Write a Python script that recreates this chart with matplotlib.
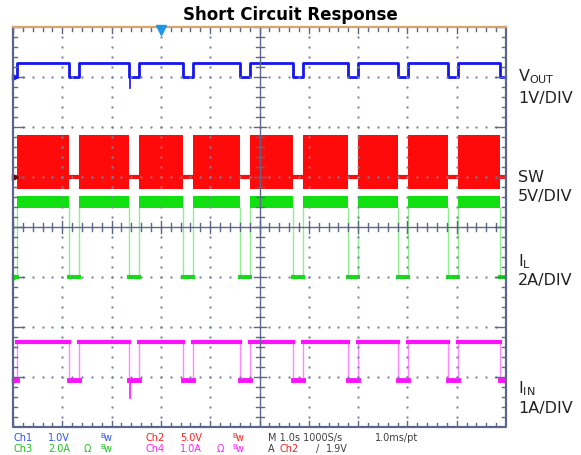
import matplotlib.pyplot as plt

# burst on/off times in divisions (1 s/div)
on_start = [0.08, 1.34, 2.56, 3.65, 4.81, 5.88, 7.00, 8.01, 9.03]
on_end = [1.14, 2.35, 3.45, 4.60, 5.68, 6.80, 7.81, 8.82, 9.88]

# channel levels in divisions from the centre line
vout_lo, vout_hi, vout_spike = 3.0, 3.28, 2.78
sw_lo, sw_top, sw_bot = 1.0, 1.84, 0.76
il_lo, il_top, il_bot = -1.0, 0.63, 0.38
iin_lo, iin_hi, iin_spike = -3.05, -2.30, -3.42
spike_t = 2.37

right_labels = [(r'V$_{\mathregular{OUT}}$', 77), ('1V/DIV', 98),
                ('SW', 177), ('5V/DIV', 197),
                (r'I$_{\mathregular{L}}$', 262), ('2A/DIV', 281),
                (r'I$_{\mathregular{IN}}$', 389), ('1A/DIV', 408)]

BLUE, RED, GREEN, MAG = '#1515f0', '#ff0a0a', '#10e010', '#ff10ff'
GRID = '#5c6688'

W, H = 581, 455
fig = plt.figure(figsize=(W / 100, H / 100), dpi=100)
ax = fig.add_axes([13 / W, 28 / H, 493 / W, 400 / H])
ax.set_xlim(0, 10)
ax.set_ylim(-4, 4)
ax.axis('off')
PX, PY = 10 / 493, 8 / 400   # data units per pixel


def step_trace(lo, hi):
    xs, ys = [0], [lo]
    for s, e in zip(on_start, on_end):
        xs += [s, s, e, e]
        ys += [lo, hi, hi, lo]
    xs.append(10)
    ys.append(lo)
    return xs, ys


# Ch1 Vout
xs, ys = step_trace(vout_lo, vout_hi)
ax.plot(xs, ys, color=BLUE, lw=2.0, zorder=3)
ax.plot([spike_t, spike_t], [vout_lo, vout_spike], color=BLUE, lw=1.2, zorder=3)

# Ch2 SW: switching bursts and idle baseline
gaps = [0] + on_end
for g0, g1 in zip(gaps, on_start + [10]):
    ax.plot([g0, g1], [sw_lo, sw_lo], color=RED, lw=3, zorder=3)
for s, e in zip(on_start, on_end):
    ax.fill_between([s, e], sw_bot, sw_top, color=RED, lw=0, zorder=3)

# Ch3 inductor current
for s, e in zip(on_start, on_end):
    ax.fill_between([s, e], il_bot, il_top, color=GREEN, lw=0, zorder=3)
    ax.plot([s, s], [il_lo, il_bot], color='#90ee90', lw=1, zorder=2)
    ax.plot([e, e], [il_lo, il_bot], color='#90ee90', lw=1, zorder=2)
for g0, g1 in zip(gaps, on_start + [10]):
    ax.plot([g0, g1], [il_lo, il_lo], color=GREEN, lw=3, zorder=3)

# Ch4 input current
xs, ys = step_trace(iin_lo, iin_hi)
ax.plot(xs, ys, color='#ff88ff', lw=1, zorder=2)
for s, e in zip(on_start, on_end):
    ax.plot([s, e], [iin_hi, iin_hi], color=MAG, lw=3, zorder=3)
for g0, g1 in zip(gaps, on_start + [10]):
    ax.plot([g0, g1], [iin_lo, iin_lo], color=MAG, lw=3.5, zorder=3)
ax.plot([spike_t, spike_t], [iin_lo, iin_spike], color=MAG, lw=1.2, zorder=3)

# ground markers
for lvl, c in [(vout_lo, BLUE), (sw_lo, '#600000'), (il_lo, GREEN), (iin_lo, MAG)]:
    ax.plot(0.05, lvl, marker='>', color=c, ms=5, clip_on=False, zorder=6)

# graticule dots
minor = [i * 0.2 for i in range(-20, 21)]
minor_x = [i * 0.2 for i in range(51)]
for gx in range(1, 10):
    if gx != 5:
        ax.plot([gx] * len(minor), minor, ls='none', marker='.', ms=1.3,
                color='#7a84a0', zorder=5)
for gy in range(-3, 4):
    if gy != 0:
        ax.plot(minor_x, [gy] * len(minor_x), ls='none', marker='.', ms=1.3,
                color='#7a84a0', zorder=5)

# centre cross with ticks
ax.plot([0, 10], [0, 0], color=GRID, lw=1, zorder=5)
ax.plot([5, 5], [-4, 4], color=GRID, lw=1, zorder=5)
for x in minor_x:
    t = 6 if abs(x - round(x)) < 1e-6 else 4
    ax.plot([x, x], [-t * PY, t * PY], color=GRID, lw=1, zorder=5)
    ax.plot([x, x], [4, 4 - t * PY], color=GRID, lw=1, zorder=5)
    ax.plot([x, x], [-4, -4 + t * PY], color=GRID, lw=1, zorder=5)
for y in minor:
    t = 6 if abs(y - round(y)) < 1e-6 else 4
    ax.plot([5 - t * PX, 5 + t * PX], [y, y], color=GRID, lw=1, zorder=5)
    tl = 11 if abs(y - round(y)) < 1e-6 else 4
    ax.plot([0, tl * PX], [y, y], color=GRID, lw=1, zorder=5)
    ax.plot([10, 10 - tl * PX], [y, y], color=GRID, lw=1, zorder=5)

# frame
ax.plot([0, 0, 10, 10], [4, -4, -4, 4], color=GRID, lw=1.6, zorder=6, clip_on=False)
ax.plot([0, 10], [4, 4], color='#d9a46a', lw=1.6, zorder=6, clip_on=False)
ax.plot(3, 4 - 3 * PY, marker='v', color='#1e96e6', ms=7, clip_on=False, zorder=7)

# texts
fig.text(290 / W, 1 - 15 / H, 'Short Circuit Response', ha='center', va='center',
         fontsize=12, fontweight='bold')
for txt, py in right_labels:
    fig.text(518 / W, 1 - py / H, txt, ha='left', va='center', fontsize=11.5,
             color='#222222')

readout = [('Ch1', 13, 438, '#3050ff'), ('1.0V', 48, 438, '#3050ff'),
           ('Ch2', 145, 438, '#ff2020'), ('5.0V', 180, 438, '#ff2020'),
           ('M 1.0s 1000S/s', 268, 438, '#404040'), ('1.0ms/pt', 375, 438, '#404040'),
           ('Ch3', 13, 449, '#20c020'), ('2.0A', 48, 449, '#20c020'),
           ('Ω', 84, 449, '#20c020'),
           ('Ch4', 145, 449, '#ff20ff'), ('1.0A', 180, 449, '#ff20ff'),
           ('Ω', 217, 449, '#ff20ff'),
           ('A', 268, 449, '#404040'), ('Ch2', 280, 449, '#ff2020'),
           ('/', 316, 449, '#404040'), ('1.9V', 326, 449, '#404040')]
for txt, px, py, c in readout:
    fig.text(px / W, 1 - py / H, txt, ha='left', va='center', fontsize=7,
             color=c)
for px, py, c in [(100, 438, '#3050ff'), (232, 438, '#ff2020'),
                  (100, 449, '#20c020'), (232, 449, '#ff20ff')]:
    fig.text(px / W, 1 - (py - 2) / H, 'B', ha='left', va='center', fontsize=5,
             color=c)
    fig.text((px + 4) / W, 1 - py / H, 'w', ha='left', va='center', fontsize=7,
             color=c)

fig.savefig('out.png', dpi=100)
